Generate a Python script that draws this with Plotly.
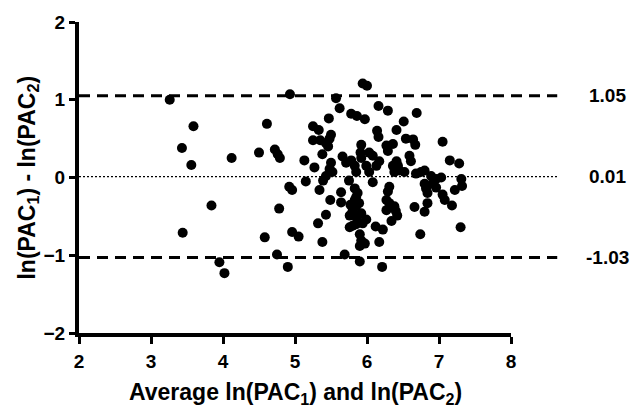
import plotly.graph_objects as go

# Bland-Altman data
x_avg = [3.26, 3.59, 3.43, 3.56, 4.12, 4.50, 4.61, 4.72, 4.76, 4.79, 3.84, 3.44, 4.58, 4.78,
         3.95, 4.02, 4.75, 4.93, 4.92, 4.96, 4.96, 4.90,
         5.94, 6.00, 5.57, 5.62, 6.16, 6.29, 6.69, 5.78, 5.86, 5.97, 5.47, 6.51, 5.25, 5.33,
         6.41, 6.14, 6.16, 5.50, 5.48, 5.25, 5.35, 5.43, 5.46, 6.54, 6.64, 6.67, 7.05, 5.92,
         6.27, 6.29, 6.36, 6.03, 6.08, 5.38, 5.91, 5.92, 6.59, 6.61, 5.13, 5.66, 5.71, 5.78,
         7.15, 7.28, 6.17, 6.13, 5.50, 5.48, 5.52, 6.41, 6.43, 6.45, 6.52, 6.38, 6.36, 5.27,
         5.99, 6.03, 5.83, 5.85, 6.68, 6.75, 6.80, 6.89, 6.96, 7.03, 7.31, 7.32, 5.43, 5.39,
         5.15, 5.75, 6.08, 6.31, 6.29, 6.80, 6.82, 6.84, 6.91, 6.96, 7.22, 5.34, 5.83, 5.87,
         5.85, 5.64, 7.05, 7.08, 5.49, 5.83, 5.89, 5.85, 6.27, 6.31, 6.38, 5.64, 7.18, 5.77,
         5.80, 5.76, 6.66, 6.27, 6.40, 6.42, 6.80, 6.84, 5.43, 5.92, 5.99, 5.94, 5.86, 5.85,
         6.34, 5.32, 5.76, 5.80, 6.12, 6.22, 5.05, 7.30, 6.74, 5.90, 5.92, 5.38, 6.17, 5.90,
         5.97, 5.69, 5.90, 6.21]
y_diff = [1.00, 0.66, 0.38, 0.16, 0.25, 0.32, 0.69, 0.36, 0.30, 0.25, -0.36, -0.71, -0.77, -0.40,
          -1.09, -1.23, -0.99, 1.07, -0.12, -0.16, -0.70, -1.15,
          1.21, 1.18, 1.02, 0.89, 0.92, 0.86, 0.83, 0.82, 0.79, 0.75, 0.76, 0.72, 0.66, 0.61,
          0.61, 0.60, 0.52, 0.55, 0.50, 0.48, 0.48, 0.44, 0.40, 0.50, 0.49, 0.42, 0.46, 0.42,
          0.41, 0.34, 0.43, 0.32, 0.28, 0.30, 0.32, 0.25, 0.28, 0.21, 0.22, 0.27, 0.19, 0.22,
          0.22, 0.18, 0.21, 0.15, 0.19, 0.11, 0.07, 0.21, 0.15, 0.09, 0.07, 0.07, 0.15, 0.13,
          0.15, 0.07, 0.15, 0.07, 0.05, 0.07, 0.09, 0.02, -0.02, 0.00, -0.02, -0.11, 0.02, -0.04,
          -0.05, -0.04, -0.06, -0.12, -0.18, -0.08, -0.14, -0.20, -0.08, -0.13, -0.16, -0.16, -0.14, -0.20,
          -0.25, -0.19, -0.22, -0.29, -0.29, -0.29, -0.33, -0.37, -0.29, -0.33, -0.37, -0.32, -0.36, -0.35,
          -0.43, -0.49, -0.38, -0.42, -0.43, -0.49, -0.44, -0.33, -0.48, -0.46, -0.54, -0.59, -0.52, -0.60,
          -0.56, -0.59, -0.64, -0.62, -0.63, -0.67, -0.76, -0.64, -0.73, -0.73, -0.81, -0.83, -0.83, -0.88,
          -0.85, -0.99, -1.08, -1.15]

limit_values = [1.05, 0.01, -1.03]
limit_labels = ["1.05", "0.01", "-1.03"]
limit_dash = ["11px,7px", "2px,2px", "11px,7px"]
limit_width = [3, 1.2, 3]

x_ticks = [2, 3, 4, 5, 6, 7, 8]
y_ticks = [-2, -1, 0, 1, 2]

FONT = "Liberation Sans, Arial, sans-serif"

fig = go.Figure()
fig.add_trace(go.Scatter(
    x=x_avg, y=y_diff, mode="markers",
    marker=dict(color="black", size=10, line=dict(width=0)),
    showlegend=False, hoverinfo="x+y",
))

for v, lab, d, w in zip(limit_values, limit_labels, limit_dash, limit_width):
    fig.add_shape(type="line", xref="paper", yref="y", x0=0, x1=1.107, y0=v, y1=v,
                  line=dict(color="black", width=w, dash=d), layer="below")
    fig.add_annotation(xref="paper", yref="y", x=1.223, y=v, text=lab, showarrow=False,
                       xanchor="center", yanchor="middle",
                       font=dict(family=FONT, size=19, color="black", weight="bold"))

fig.add_annotation(xref="paper", yref="paper", x=-0.118, y=0.5, textangle=-90,
                   text="ln(PAC<sub>1</sub>) - ln(PAC<sub>2</sub>)", showarrow=False,
                   xanchor="center", yanchor="middle",
                   font=dict(family=FONT, size=23, color="black", weight="bold"))
fig.add_annotation(xref="paper", yref="paper", x=0.5, y=-0.196,
                   text="Average ln(PAC<sub>1</sub>) and ln(PAC<sub>2</sub>)", showarrow=False,
                   xanchor="center", yanchor="middle",
                   font=dict(family=FONT, size=23, color="black", weight="bold"))

axis_common = dict(showgrid=False, zeroline=False, showline=True, linecolor="black",
                   linewidth=4, ticks="outside", tickcolor="black", tickwidth=3,
                   ticklabeloverflow="allow",
                   tickfont=dict(family=FONT, size=19, color="black", weight="bold"))

fig.update_xaxes(range=[2, 8], tickvals=x_ticks, ticklen=7, ticklabelstandoff=1, **axis_common)
fig.update_yaxes(range=[-2, 2], tickvals=y_ticks, ticklen=6, **axis_common)

fig.update_layout(
    width=634, height=409,
    margin=dict(l=79, r=123, t=12, b=76),
    plot_bgcolor="white", paper_bgcolor="white",
    font=dict(family=FONT, color="black"),
)

fig.write_html("out.html")
